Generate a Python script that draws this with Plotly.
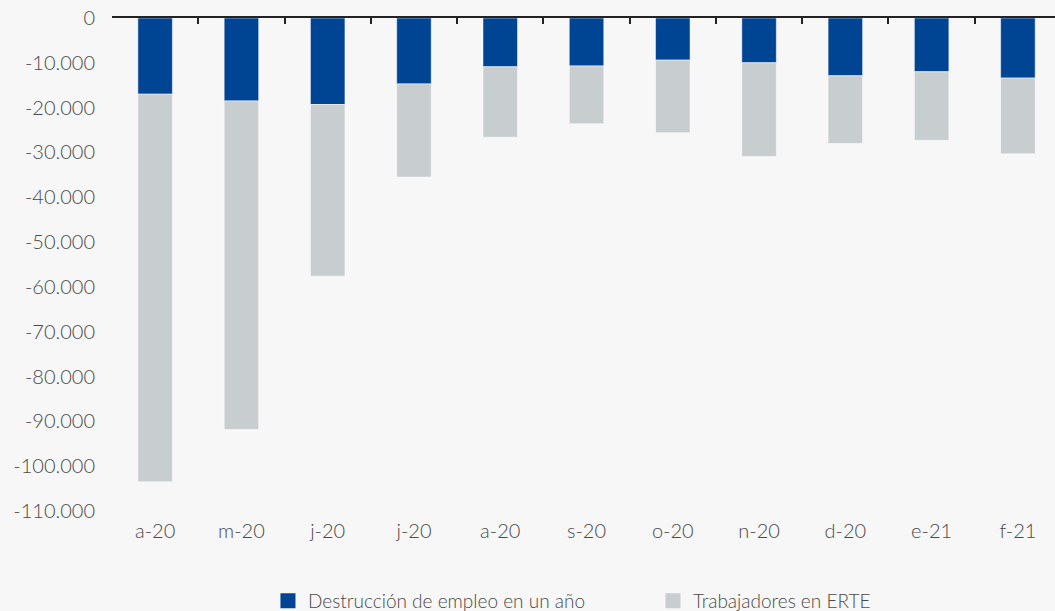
import plotly.graph_objects as go

# Monthly labels (Apr 2020 - Feb 2021)
months = ["a-20", "m-20", "j-20", "j-20", "a-20", "s-20", "o-20", "n-20", "d-20", "e-21", "f-21"]

# Year-on-year job destruction and workers on ERTE (furlough), people
destruccion_empleo = [-17000, -18500, -19300, -14700, -10900, -10700, -9400, -10000, -12900, -12000, -13400]
trabajadores_erte = [-86500, -73300, -38300, -20800, -15700, -12900, -16200, -20900, -15100, -15300, -16900]

# Y axis ticks
y_tickvals = [0, -10000, -20000, -30000, -40000, -50000, -60000, -70000, -80000, -90000, -100000, -110000]
y_ticktext = ["0", "-10.000", "-20.000", "-30.000", "-40.000", "-50.000", "-60.000", "-70.000",
              "-80.000", "-90.000", "-100.000", "-110.000"]

series_names = ["Destrucción de empleo en un año", "Trabajadores en ERTE"]

BLUE = "#004494"
GREY = "#C8CDD0"
BG = "#F7F7F7"
TEXT = "#4a4a4a"
FONT = "Lato"
WEIGHT = 300

xpos = list(range(len(months)))

fig = go.Figure()
for vals, name, col in [(destruccion_empleo, series_names[0], BLUE),
                        (trabajadores_erte, series_names[1], GREY)]:
    fig.add_trace(go.Bar(
        x=xpos, y=vals, name=name, showlegend=False,
        marker=dict(color=col, line=dict(color="rgba(255,255,255,0.5)", width=1)),
    ))

# Legend entries with slightly larger swatches
for name, col in [(series_names[0], BLUE), (series_names[1], GREY)]:
    fig.add_trace(go.Bar(
        x=[None], y=[None], name=name, showlegend=True,
        marker=dict(color=col, line=dict(color=col, width=3)),
    ))

x_range = [-0.5, 10.43]

fig.update_layout(
    width=1055, height=611,
    margin=dict(l=112, r=0, t=18, b=100),
    paper_bgcolor=BG, plot_bgcolor=BG,
    barmode="relative", bargap=0.6,
    font=dict(family=FONT, size=20, color=TEXT, weight=WEIGHT),
    showlegend=True,
    legend=dict(
        orientation="h", x=0.1654, xanchor="left",
        yref="container", y=0.0164, yanchor="middle",
        font=dict(family=FONT, size=19, color=TEXT, weight=WEIGHT), bgcolor="rgba(0,0,0,0)",
        entrywidth=340, itemwidth=30,
    ),
    xaxis=dict(
        range=x_range, tickmode="array", tickvals=xpos, ticktext=months,
        showline=False, showgrid=False, zeroline=False, ticks="",
        ticklabelstandoff=6, tickfont=dict(family=FONT, size=20, color=TEXT, weight=WEIGHT),
    ),
    xaxis2=dict(
        overlaying="x", side="top", range=x_range,
        tickmode="array", tickvals=[i - 0.5 for i in range(len(months) + 1)],
        showticklabels=False, ticks="inside", ticklen=6, tickwidth=2, tickcolor="#222",
        showline=True, linecolor="#222", linewidth=2, showgrid=False, zeroline=False,
    ),
    yaxis=dict(
        range=[-110000, 0], tickmode="array", tickvals=y_tickvals, ticktext=y_ticktext,
        showgrid=False, zeroline=False, showline=False, ticks="",
        ticklabelstandoff=16, tickfont=dict(family=FONT, size=20, color=TEXT, weight=WEIGHT),
    ),
)

# Invisible trace so the top boundary axis is rendered
fig.add_trace(go.Scatter(x=[None], y=[None], xaxis="x2", showlegend=False, hoverinfo="skip"))

fig.write_html("out.html")
